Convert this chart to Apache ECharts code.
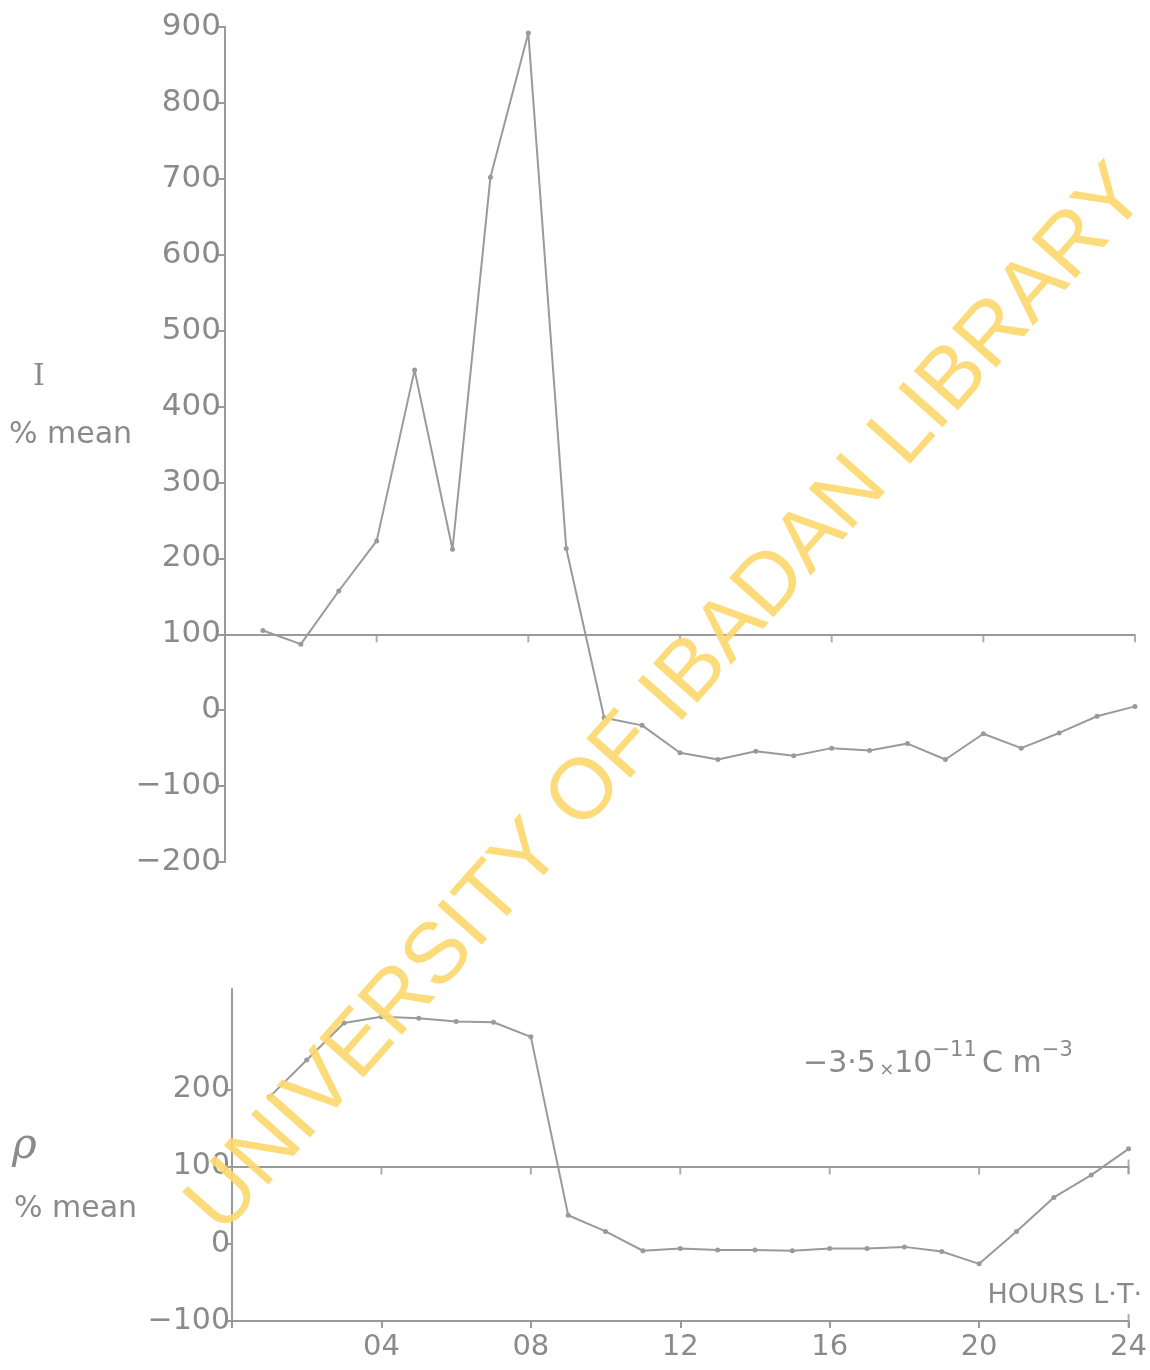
<!DOCTYPE html>
<html lang="en">
<head>
    <meta charset="UTF-8">
    <title>I and rho, % mean</title>
    <script src="https://cdn.jsdelivr.net/npm/echarts@6/dist/echarts.min.js"></script>
    <style>
        html, body { margin: 0; padding: 0; background: #fff; }
    </style>
</head>
<body>
<div id="main" style="width: 1150px;height:1370px;"></div>
<script>
    // hours LT, 1..24
    var hours = [1,2,3,4,5,6,7,8,9,10,11,12,13,14,15,16,17,18,19,20,21,22,23,24];
    // I, % mean (top panel)
    var currentI = [105, 87, 157, 223, 448, 212, 702, 892, 213, -10, -20, -56, -65, -54, -60, -50, -53, -44, -65, -31, -50, -30, -8, 5];
    // rho, % mean (bottom panel)
    var rhoVals = [190, 238, 286, 294, 292, 288, 287, 268, 37, 16, -9, -6, -8, -8, -9, -6, -6, -4, -10, -26, 16, 60, 89, 123];
    var hourTicks = [4, 8, 12, 16, 20, 24];
    var rhoTicks = [-100, 0, 100, 200];
    var meanLevel = 100;

    var grey = '#9a9a9a';
    var txt = '#8a8a8a';
    var font = 'DejaVu Sans';

    function pairs(xs, ys) {
        return xs.map(function (x, i) { return [x, ys[i]]; });
    }
    function tickPts(level) {
        return hourTicks.map(function (h) { return [h, level]; });
    }
    function minus(v) {
        return String(v).replace('-', '−');
    }

    var myChart = echarts.init(document.getElementById('main'));
    var option = {
        backgroundColor: '#fff',
        animation: false,
        textStyle: { fontFamily: font },
        grid: [
            { left: 225, right: 15, top: 27, bottom: 508 },
            { left: 232, right: 15, top: 989, bottom: 49 }
        ],
        xAxis: [
            { gridIndex: 0, type: 'value', min: 0, max: 24, show: false },
            {
                gridIndex: 1, type: 'value', min: 0, max: 24, interval: 4,
                axisLine: { onZero: false, lineStyle: { color: grey, width: 2 } },
                axisTick: { show: true, length: 7, lineStyle: { color: grey, width: 2 } },
                splitLine: { show: false },
                axisLabel: {
                    customValues: hourTicks,
                    color: txt, fontSize: 29, margin: 12, fontFamily: font,
                    formatter: function (v) { return (v < 10 ? '0' : '') + v; }
                }
            }
        ],
        yAxis: [
            {
                gridIndex: 0, type: 'value', min: -200, max: 900, interval: 100,
                axisLine: { show: true, lineStyle: { color: grey, width: 2 } },
                axisTick: { show: true, length: 7, lineStyle: { color: grey, width: 2 } },
                splitLine: { show: false },
                axisLabel: { color: txt, fontSize: 31, margin: 4, fontFamily: font, formatter: minus }
            },
            {
                gridIndex: 1, type: 'value', min: -100, max: 330,
                axisLine: { show: true, lineStyle: { color: grey, width: 2 } },
                axisTick: { show: true, length: 7, customValues: rhoTicks, lineStyle: { color: grey, width: 2 } },
                splitLine: { show: false },
                axisLabel: { customValues: rhoTicks, color: txt, fontSize: 30, margin: 2, fontFamily: font, formatter: minus }
            }
        ],
        series: [
            {
                name: 'I', type: 'line', xAxisIndex: 0, yAxisIndex: 0,
                data: pairs(hours, currentI),
                symbol: 'circle', symbolSize: 5,
                itemStyle: { color: grey },
                lineStyle: { color: grey, width: 2 },
                markLine: {
                    silent: true, symbol: 'none', label: { show: false },
                    lineStyle: { color: grey, width: 2, type: 'solid' },
                    data: [{ yAxis: meanLevel }]
                }
            },
            {
                name: 'I ticks', type: 'scatter', xAxisIndex: 0, yAxisIndex: 0,
                data: tickPts(meanLevel),
                symbol: 'rect', symbolSize: [2, 8], symbolOffset: [0, 4],
                itemStyle: { color: grey }, silent: true
            },
            {
                name: 'rho', type: 'line', xAxisIndex: 1, yAxisIndex: 1,
                data: pairs(hours, rhoVals),
                symbol: 'circle', symbolSize: 5,
                itemStyle: { color: grey },
                lineStyle: { color: grey, width: 2 },
                markLine: {
                    silent: true, symbol: 'none', label: { show: false },
                    lineStyle: { color: grey, width: 2, type: 'solid' },
                    data: [{ yAxis: meanLevel }]
                }
            },
            {
                name: 'rho ticks', type: 'scatter', xAxisIndex: 1, yAxisIndex: 1,
                data: tickPts(meanLevel),
                symbol: 'rect', symbolSize: [2, 8], symbolOffset: [0, 4],
                itemStyle: { color: grey }, silent: true
            },
            {
                name: 'end caps', type: 'scatter', xAxisIndex: 1, yAxisIndex: 1,
                data: [[24, meanLevel], [24, -100]],
                symbol: 'rect', symbolSize: [2, 14],
                itemStyle: { color: grey }, silent: true
            }
        ],
        graphic: [
            { type: 'text', left: 33, top: 362, style: { text: 'I', fill: txt, font: '30px "DejaVu Serif"' } },
            { type: 'text', left: 9, top: 420, style: { text: '% mean', fill: txt, font: '30px ' + font } },
            { type: 'text', left: 12, top: 1126, style: { text: 'ρ', fill: txt, font: 'italic 42px "DejaVu Serif"' } },
            { type: 'text', left: 14, top: 1194, style: { text: '% mean', fill: txt, font: '30px ' + font } },
            {
                type: 'text', left: 803, top: 1040,
                style: {
                    text: '{a|−3·5} {b|×}{a|10}{s|−11} {a|C m}{s|−3}',
                    fill: txt,
                    rich: {
                        a: { fontSize: 30, fontFamily: font, fill: txt, verticalAlign: 'bottom' },
                        b: { fontSize: 18, fontFamily: font, fill: txt, verticalAlign: 'bottom' },
                        s: { fontSize: 21, fontFamily: font, fill: txt, verticalAlign: 'top', padding: [0, 2, 18, 0] }
                    }
                }
            },
            { type: 'text', right: 8, top: 1282, style: { text: 'HOURS L·T·', fill: txt, font: '27px ' + font } },
            {
                type: 'text', x: 668, y: 700, rotation: 48.3 * Math.PI / 180, z: 100,
                style: {
                    text: 'UNIVERSITY OF IBADAN LIBRARY',
                    fill: '#fcd86f', opacity: 0.92,
                    font: '86px "Liberation Sans"',
                    align: 'center', verticalAlign: 'middle'
                }
            }
        ]
    };
    myChart.setOption(option);
</script>
</body>
</html>
